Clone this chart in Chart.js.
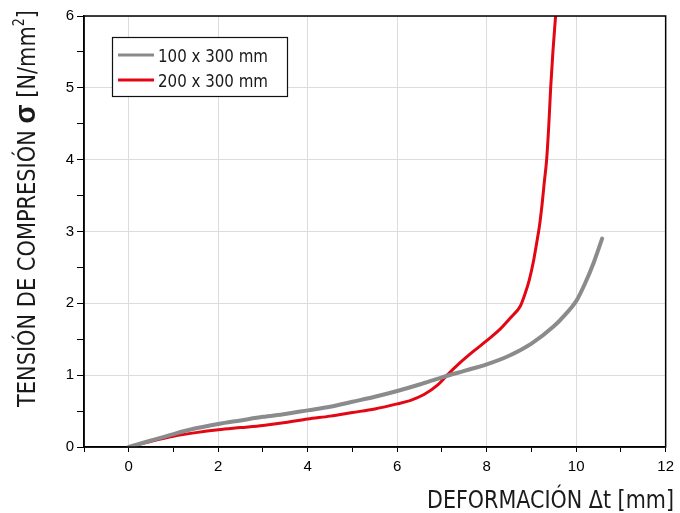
<!DOCTYPE html>
<html>
<head>
<meta charset="utf-8">
<script src="https://cdn.jsdelivr.net/npm/chart.js@4"></script>
<style>
  html, body { margin: 0; padding: 0; background: #fff; }
  #wrap { width: 680px; height: 513px; }
</style>
</head>
<body>
<div id="wrap"><canvas id="stressChart"></canvas></div>
<script>
// Data
const seriesNames = ['100 x 300 mm', '200 x 300 mm'];

const deform100 = [0, 0.5, 1, 1.5, 2, 2.5, 3, 3.5, 4, 4.5, 5, 5.5, 6, 6.5, 7, 7.5, 8, 8.5, 9, 9.5, 9.75, 10, 10.2, 10.4, 10.58];
const stress100 = [0, 0.09, 0.18, 0.26, 0.32, 0.37, 0.42, 0.46, 0.51, 0.56, 0.63, 0.70, 0.78, 0.87, 0.97, 1.06, 1.15, 1.27, 1.44, 1.68, 1.84, 2.03, 2.28, 2.58, 2.90];

const deform200 = [0, 0.5, 1, 1.5, 2, 2.5, 3, 3.5, 4, 4.5, 5, 5.5, 6, 6.3, 6.6, 6.9, 7.1, 7.4, 7.7, 8, 8.3, 8.55, 8.75, 8.85, 8.95, 9.05, 9.12, 9.18, 9.24, 9.29, 9.34, 9.39, 9.43, 9.48, 9.54];
const stress200 = [0, 0.08, 0.15, 0.20, 0.24, 0.27, 0.30, 0.34, 0.39, 0.43, 0.48, 0.53, 0.60, 0.65, 0.73, 0.86, 0.99, 1.17, 1.33, 1.48, 1.64, 1.81, 1.96, 2.12, 2.32, 2.60, 2.85, 3.08, 3.39, 3.70, 4.00, 4.50, 5.00, 5.50, 6.00];

const xTickLabels = [0, 2, 4, 6, 8, 10, 12];
const yTickLabels = [0, 1, 2, 3, 4, 5, 6];

const colors = ['#8a8b8d', '#e30613'];
const condensed = '"DejaVu Sans Condensed", "Liberation Sans Narrow", sans-serif';

function toPoints(xs, ys) {
    return xs.map((x, i) => ({ x: x, y: ys[i] }));
}

// draw a string squeezed to a given width
function fitText(ctx, text, x, y, width) {
    const w = ctx.measureText(text).width;
    ctx.save();
    ctx.translate(x, y);
    ctx.scale(width / w, 1);
    ctx.fillText(text, 0, 0);
    ctx.restore();
}

// frame, legend box and axis titles
const decorations = {
    id: 'decorations',
    afterDraw(chart) {
        const ctx = chart.ctx;
        const area = chart.chartArea;
        ctx.save();
        ctx.strokeStyle = '#000';
        ctx.lineWidth = 1.5;
        ctx.strokeRect(area.left, area.top, area.right - area.left, area.bottom - area.top);

        // legend
        ctx.fillStyle = '#fff';
        ctx.fillRect(112, 37, 175, 59);
        ctx.lineWidth = 1.2;
        ctx.strokeStyle = '#111';
        ctx.strokeRect(112.5, 37.5, 175, 59);
        chart.data.datasets.forEach((ds, i) => {
            const yy = 55 + i * 25;
            ctx.strokeStyle = ds.borderColor;
            ctx.lineWidth = 3;
            ctx.beginPath();
            ctx.moveTo(118, yy);
            ctx.lineTo(154, yy);
            ctx.stroke();
            ctx.fillStyle = '#1a1a1a';
            ctx.font = '18px ' + condensed;
            ctx.textBaseline = 'alphabetic';
            fitText(ctx, ds.label, 158, yy + 7, 110);
        });

        // x title
        ctx.fillStyle = '#1a1a1a';
        ctx.font = '300 25px ' + condensed;
        fitText(ctx, 'DEFORMACIÓN Δt [mm]', 427, 508, 247);

        // y title, built from pieces
        ctx.translate(35, 407);
        ctx.rotate(-Math.PI / 2);
        const parts = [
            { t: 'TENSIÓN DE COMPRESIÓN ', f: '300 25px ' + condensed, dy: 0 },
            { t: 'σ', f: 'bold 30px "Liberation Sans", sans-serif', dy: 0 },
            { t: ' [N/mm', f: '300 25px ' + condensed, dy: 0 },
            { t: '2', f: '300 15px ' + condensed, dy: -11 },
            { t: ']', f: '300 25px ' + condensed, dy: 0 }
        ];
        let total = 0;
        parts.forEach(p => { ctx.font = p.f; p.w = ctx.measureText(p.t).width; total += p.w; });
        const sx = 397 / total;
        ctx.scale(sx, 1);
        let pos = 0;
        parts.forEach(p => {
            ctx.font = p.f;
            ctx.fillText(p.t, pos, p.dy);
            pos += p.w;
        });
        ctx.restore();
    }
};

const ctx = document.getElementById('stressChart').getContext('2d');
const stressChart = new Chart(ctx, {
    type: 'scatter',
    data: {
        datasets: [{
            label: seriesNames[0],
            data: toPoints(deform100, stress100),
            borderColor: colors[0],
            borderWidth: 4,
            borderCapStyle: 'round',
            showLine: true,
            pointRadius: 0,
            cubicInterpolationMode: 'monotone'
        }, {
            label: seriesNames[1],
            data: toPoints(deform200, stress200),
            borderColor: colors[1],
            borderWidth: 3,
            borderCapStyle: 'round',
            showLine: true,
            pointRadius: 0,
            cubicInterpolationMode: 'monotone'
        }]
    },
    options: {
        responsive: true,
        maintainAspectRatio: false,
        animation: false,
        layout: { padding: { top: 16, right: 11, left: 0, bottom: 0 } },
        plugins: {
            legend: { display: false },
            tooltip: { enabled: false }
        },
        scales: {
            x: {
                type: 'linear',
                min: -1,
                max: 12,
                afterFit(scale) { scale.height = 66; },
                border: { color: '#000', width: 1.5 },
                grid: {
                    color: c => xTickLabels.includes(c.tick.value) ? '#dcdcdc' : 'rgba(0,0,0,0)',
                    tickColor: '#000',
                    tickLength: 5,
                    lineWidth: 1
                },
                ticks: {
                    stepSize: 1,
                    autoSkip: false,
                    maxRotation: 0,
                    color: '#000',
                    padding: 6,
                    font: { family: '"Liberation Sans", Arial, sans-serif', size: 15 },
                    callback: v => xTickLabels.includes(v) ? String(v) : ''
                }
            },
            y: {
                type: 'linear',
                min: 0,
                max: 6,
                afterFit(scale) { scale.width = 84; },
                border: { color: '#000', width: 1.5 },
                grid: {
                    color: c => yTickLabels.includes(c.tick.value) ? '#dcdcdc' : 'rgba(0,0,0,0)',
                    tickColor: '#000',
                    tickLength: 7,
                    lineWidth: 1
                },
                ticks: {
                    stepSize: 0.5,
                    autoSkip: false,
                    color: '#000',
                    padding: 3,
                    font: { family: '"Liberation Sans", Arial, sans-serif', size: 15 },
                    callback: v => yTickLabels.includes(v) ? String(v) : ''
                }
            }
        }
    },
    plugins: [decorations]
});
</script>
</body>
</html>
